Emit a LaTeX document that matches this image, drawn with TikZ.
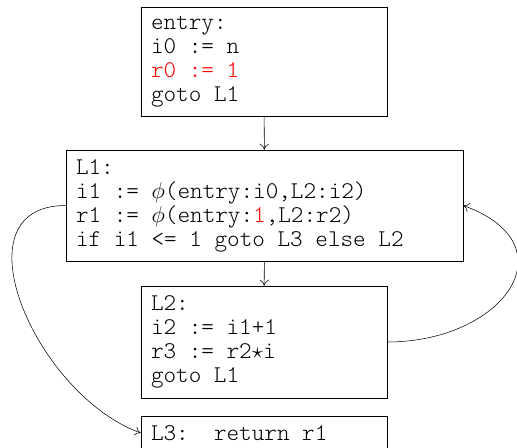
\documentclass[tikz,border=0pt]{standalone}
\usepackage{amsmath}
\usepackage{amssymb}
\usepackage{fontspec}
\setmonofont{lmmonolt10-regular}[Extension=.otf]
\usepackage{tikz}
\usetikzlibrary{arrows.meta}
\tikzset{
  >={To[length=4.5pt,width=7pt]},
  block/.style={draw, rectangle, inner ysep=0pt, inner xsep=7.5pt,
    align=flush left, font=\fontsize{18}{18}\selectfont\ttfamily,
    execute at begin node={\spaceskip=0pt\xspaceskip=0pt}},
  narrowblock/.style={block, minimum width=184.5pt, text width=169.5pt},
  wideblock/.style={block, minimum width=297.75pt, text width=282.75pt}
}

\begin{document}
\begin{tikzpicture}[x=0.75pt,y=-0.75pt]
            \useasboundingbox (0,0) rectangle (517,447);
            % the basic blocks
            \node (entry) at (264,61.5) [narrowblock, minimum height=81.75pt]
              {entry:\\i0 := n\\\textcolor{red}{r0 := 1}\\goto L1};
            \node (L1) at (264.5,205.5) [wideblock, minimum height=83.25pt]
              {L1:\\i1 := $\phi$(entry:i0,L2:i2)\\r1 := $\phi$(entry:\textcolor{red}{1},L2:r2)\\if i1 <= 1 goto L3 else L2};
            \node (L2) at (264,342) [narrowblock, minimum height=84pt]
              {L2:\\i2 := i1+1\\r3 := r2$\star$i\\goto L1};
            \node (L3) at (264,433) [narrowblock, minimum height=25.5pt]
              {L3:\ \ return r1};

            % straight edges
            \draw[->] (entry) -- (L1);
            \draw[->] (L1) -- (L2);

            % loop back and exit
            \draw[->] (L2.east) to[out=0,in=-20,looseness=1.9] (L1.east);
            \draw[->] (L1.west) to[out=180,in=160,looseness=1.2] (L3.west);
\end{tikzpicture}
\end{document}
